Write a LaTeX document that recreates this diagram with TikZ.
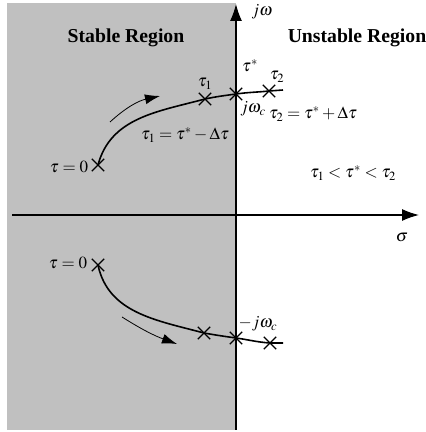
\documentclass[tikz,border=0pt]{standalone}
\usepackage{mathptmx}
\usepackage{fontspec}
\setmainfont{Liberation Serif}
\usetikzlibrary{arrows.meta,shapes.misc}

\definecolor{stablegray}{RGB}{192, 192, 192}

\tikzset{
  pole/.style={draw, cross out, line width=1.3pt, minimum size=11pt, inner sep=0pt},
  locus/.style={line width=1.6pt},
  axis/.style={line width=1.3pt, -{Latex[length=17pt,width=12pt]}},
  hint/.style={line width=0.8pt, -{Latex[length=15pt,width=10pt]}},
  region/.style={font=\fontsize{19.7}{22}\selectfont\bfseries},
  lbl/.style={font=\fontsize{17}{20}\selectfont, inner sep=0pt}
}

\begin{document}
\begin{tikzpicture}[x=1pt, y=1pt]
    \useasboundingbox (0,0) rectangle (426,432);

    % Stable half plane
    \fill[stablegray] (7,2) rectangle (236,429);

    % Axes
    \coordinate (wbot) at (236,2);
    \coordinate (wtop) at (236,428);
    \coordinate (sleft) at (12,217);
    \coordinate (sright) at (419,217);
    \draw[axis] (wbot) -- (wtop);
    \draw[axis] (sleft) -- (sright);
    \node[lbl] (jw) at (262,420) {$j\omega$};
    \node[lbl] (sig) at (402,195) {$\sigma$};

    % Regions
    \node[region] (stable) at (126,394) {Stable Region};
    \node[region] (unstable) at (357,394) {Unstable Region};

    % Upper branch
    \node[pole] (z1) at (98,267) {};
    \node[pole] (t1) at (205,333) {};
    \node[pole] (jwc) at (236,338) {};
    \node[pole] (t2) at (269,341) {};
    \coordinate (uend) at (283,342);
    \draw[locus] (z1.center) to[out=75, in=195] (t1.center)
        to[out=12, in=188] (jwc.center) to[out=8, in=186] (t2.center) -- (uend);

    \node[lbl] (z1lbl) at (69,265) {$\tau=0$};
    \node[lbl] (t1lbl) at (205,348) {$\tau_1$};
    \node[lbl] (tslbl) at (250,366) {$\tau^*$};
    \node[lbl] (t2lbl) at (277,355) {$\tau_2$};
    \node[lbl] (jwclbl) at (253,323) {$j\omega_c$};
    \node[lbl] (t2eq) at (313,318) {$\tau_2=\tau^*+\Delta\tau$};
    \node[lbl] (t1eq) at (185,297) {$\tau_1=\tau^*-\Delta\tau$};
    \node[lbl] (order) at (353,259) {$\tau_1<\tau^*<\tau_2$};

    \coordinate (ua) at (110,310);
    \coordinate (ub) at (160,336);
    \draw[hint] (ua) to[bend left=15] (ub);

    % Lower branch
    \node[pole] (z2) at (98,167) {};
    \node[pole] (b1) at (204,99) {};
    \node[pole] (mjwc) at (236,94) {};
    \node[pole] (b2) at (270,89) {};
    \coordinate (lend) at (283,89);
    \draw[locus] (z2.center) to[out=-78, in=165] (b1.center)
        to[out=-10, in=172] (mjwc.center) to[out=-8, in=176] (b2.center) -- (lend);

    \node[lbl] (z2lbl) at (68,169) {$\tau=0$};
    \node[lbl] (mjwclbl) at (258,108) {$-j\omega_c$};

    \coordinate (la) at (122,115);
    \coordinate (lb) at (177,88);
    \draw[hint] (la) to[bend right=6] (lb);
\end{tikzpicture}
\end{document}
